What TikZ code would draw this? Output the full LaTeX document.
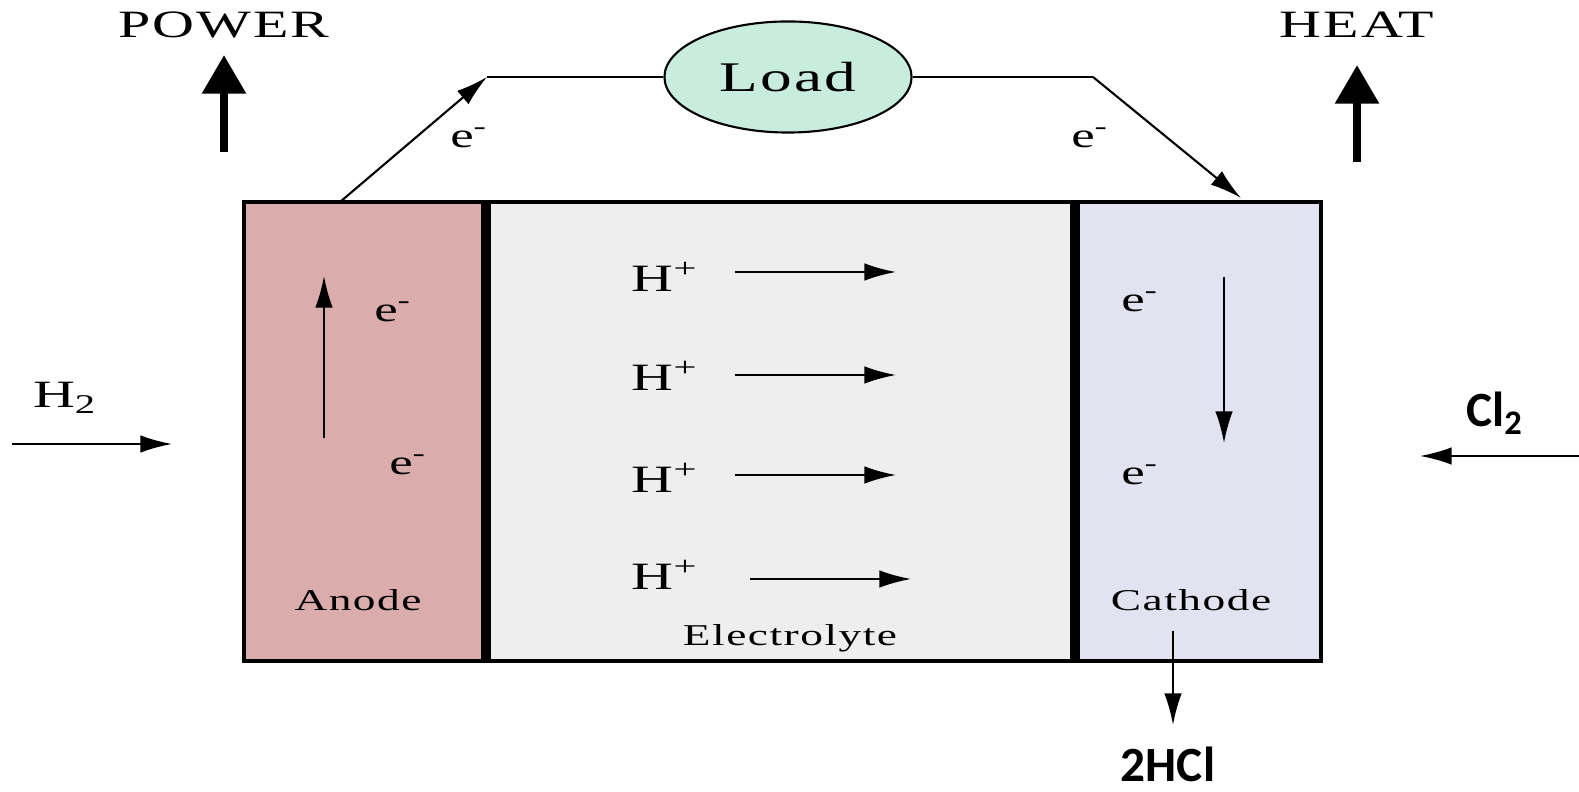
\documentclass[tikz,border=0pt]{standalone}
\usepackage{fontspec}
\setmainfont{Liberation Serif}[FakeStretch=1.5, LetterSpace=5]
\newfontfamily\chemfont{Carlito}
\usetikzlibrary{arrows.meta, shapes.geometric}

\definecolor{AnodePink}{RGB}{218,172,172}
\definecolor{CathodeBlue}{RGB}{226,226,240}
\definecolor{ElectrolyteGray}{RGB}{238,238,238}
\definecolor{LoadGreen}{RGB}{200,236,222}

\begin{document}
\begin{tikzpicture}[x=0.01cm, y=-0.01cm, thick]
                \tikzstyle{Flow} = [line width=0.6pt, -{Latex[length=9pt, width=5pt]}]
                \tikzstyle{BigFlow} = [line width=2.4pt, -{Triangle[length=11pt, width=12pt]}]
                \tikzstyle{Label} = [inner sep=1pt, font=\fontsize{10}{10}\selectfont]
                \tikzstyle{Ion} = [inner sep=1pt, font=\fontsize{11}{11}\selectfont]
                \tikzstyle{Small} = [inner sep=1pt, font=\fontsize{8.6}{9}\selectfont]
                \tikzstyle{Chem} = [inner sep=0pt, font=\chemfont\bfseries\fontsize{14}{14}\selectfont]
                \useasboundingbox (0,0) rectangle (1579,792);

                % 1. Drawing the Cell
                \fill[AnodePink] (244,202) rectangle (486,661);
                \fill[ElectrolyteGray] (486,202) rectangle (1075,661);
                \fill[CathodeBlue] (1075,202) rectangle (1321,661);
                \draw[line width=1pt] (244,202) rectangle (1321,661);
                \draw[line width=2.6pt] (486,202) -- (486,661);    % Anode / electrolyte wall
                \draw[line width=2.6pt] (1075,202) -- (1075,661);  % Electrolyte / cathode wall

                % 2. Load and outer circuit
                \node[ellipse, draw, line width=0.6pt, fill=LoadGreen, minimum width=2.47cm,
                      minimum height=1.11cm, font=\fontsize{12}{12}\selectfont] (load) at (788,77) {Load};

                \coordinate (AnodeTop)   at (340,202);
                \coordinate (BendL)      at (487,77);
                \coordinate (BendR)      at (1093,77);
                \coordinate (CathodeTop) at (1241,198);

                \draw[Flow] (AnodeTop) -- (BendL);           % Electrons leaving the anode
                \draw[line width=0.6pt] (BendL) -- (load.west);
                \draw[line width=0.6pt] (load.east) -- (BendR);
                \draw[Flow] (BendR) -- (CathodeTop);         % Electrons back to the cathode

                \node[Label] (eWireL) at (469,138) {e\textsuperscript{-}};
                \node[Label] (eWireR) at (1090,138) {e\textsuperscript{-}};

                % 3. Power and heat
                \node[Ion] (power) at (224,25) {POWER};
                \node[Ion] (heat) at (1357,25) {HEAT};
                \coordinate (PowerBot) at (224,152);
                \coordinate (PowerTop) at (224,55);
                \coordinate (HeatBot)  at (1357,162);
                \coordinate (HeatTop)  at (1357,65);
                \draw[BigFlow] (PowerBot) -- (PowerTop);
                \draw[BigFlow] (HeatBot) -- (HeatTop);

                % 4. Anode side
                \node[Ion] (h2) at (65,398) {H\textsubscript{2}};
                \coordinate (H2Start) at (12,444);
                \coordinate (H2End)   at (172,444);
                \draw[Flow] (H2Start) -- (H2End);

                \coordinate (AnodeLow)  at (324,438);
                \coordinate (AnodeHigh) at (324,276);
                \draw[Flow] (AnodeLow) -- (AnodeHigh);
                \node[Label] (eAnodeA) at (393,312) {e\textsuperscript{-}};
                \node[Label] (eAnodeB) at (408,465) {e\textsuperscript{-}};
                \node[Small] (anode) at (358,600) {Anode};

                % 5. Protons through the electrolyte
                \node[Ion] (hpA) at (665,277) {H\textsuperscript{+}};
                \node[Ion] (hpB) at (665,376) {H\textsuperscript{+}};
                \node[Ion] (hpC) at (665,478) {H\textsuperscript{+}};
                \node[Ion] (hpD) at (665,575) {H\textsuperscript{+}};

                \coordinate (pA1) at (735,272);  \coordinate (pA2) at (896,272);
                \coordinate (pB1) at (735,375);  \coordinate (pB2) at (896,375);
                \coordinate (pC1) at (735,475);  \coordinate (pC2) at (896,475);
                \coordinate (pD1) at (750,579);  \coordinate (pD2) at (911,579);
                \draw[Flow] (pA1) -- (pA2);
                \draw[Flow] (pB1) -- (pB2);
                \draw[Flow] (pC1) -- (pC2);
                \draw[Flow] (pD1) -- (pD2);
                \node[Small] (electrolyte) at (790,638) {Electrolyte};

                % 6. Cathode side
                \node[Label] (eCathodeA) at (1140,302) {e\textsuperscript{-}};
                \node[Label] (eCathodeB) at (1140,475) {e\textsuperscript{-}};
                \coordinate (CathodeHigh) at (1224,277);
                \coordinate (CathodeLow)  at (1224,443);
                \draw[Flow] (CathodeHigh) -- (CathodeLow);
                \node[Small] (cathode) at (1191,600) {Cathode};

                \node[Chem] (cl2) at (1495,413) {Cl\textsubscript{2}};
                \coordinate (Cl2Start) at (1579,456);
                \coordinate (Cl2End)   at (1420,456);
                \draw[Flow] (Cl2Start) -- (Cl2End);

                \coordinate (HClStart) at (1173,631);
                \coordinate (HClEnd)   at (1173,725);
                \draw[Flow] (HClStart) -- (HClEnd);
                \node[Chem] (hcl) at (1168,764) {2HCl};

            \end{tikzpicture}
\end{document}
